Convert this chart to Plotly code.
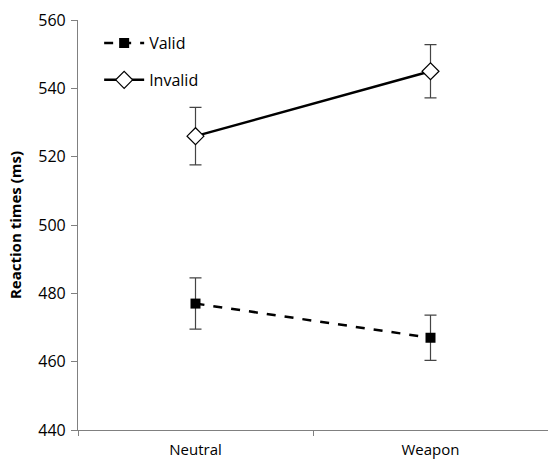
import plotly.graph_objects as go

categories = ["Neutral", "Weapon"]
valid_rt = [477, 467]
valid_err = [7.5, 6.6]
invalid_rt = [526, 545]
invalid_err = [8.4, 7.8]
y_ticks = [440, 460, 480, 500, 520, 540, 560]

FONT = "Open Sans"

fig = go.Figure()
fig.add_trace(go.Scatter(
    x=categories, y=valid_rt, name="Valid", legendgroup="a",
    mode="lines+markers",
    line=dict(color="black", width=2.5, dash="dash"),
    marker=dict(symbol="square", size=10, color="black"),
    error_y=dict(type="data", array=valid_err, color="#444444", thickness=1.2, width=6),
))
fig.add_trace(go.Scatter(
    x=categories, y=invalid_rt, name="Invalid", legendgroup="b",
    mode="lines+markers",
    line=dict(color="black", width=2.5),
    marker=dict(symbol="diamond", size=13, color="white", line=dict(color="black", width=1.2)),
    error_y=dict(type="data", array=invalid_err, color="#444444", thickness=1.2, width=6),
))

fig.update_layout(
    width=548, height=461,
    margin=dict(l=78, r=0, t=20, b=31),
    paper_bgcolor="white", plot_bgcolor="white",
    font=dict(family=FONT, size=15, color="black"),
    showlegend=True,
    legend=dict(x=0.045, y=0.985, xanchor="left", yanchor="top",
                traceorder="grouped", tracegroupgap=13,
                font=dict(family=FONT, size=16, color="black"),
                bgcolor="rgba(0,0,0,0)", itemwidth=40),
    xaxis=dict(type="category", range=[-0.5, 1.5], showline=True, linecolor="#808080", linewidth=1.2,
               ticks="outside", tickson="boundaries", ticklen=5, tickcolor="#808080",
               ticklabelstandoff=6,
               showgrid=False, zeroline=False, tickfont=dict(size=15), automargin=False),
    yaxis=dict(range=[440, 560], tickvals=y_ticks, showline=True, linecolor="#808080", linewidth=1.2,
               ticks="outside", ticklen=6, tickcolor="#808080", showgrid=False, zeroline=False,
               ticklabelstandoff=2,
               tickfont=dict(size=16), automargin=False,
               title=dict(text="<b>Reaction times (ms)</b>", font=dict(size=15), standoff=12)),
)

fig.write_html("out.html", config={"displayModeBar": False},
               post_script="document.body.style.margin='0';document.body.style.padding='0';")
